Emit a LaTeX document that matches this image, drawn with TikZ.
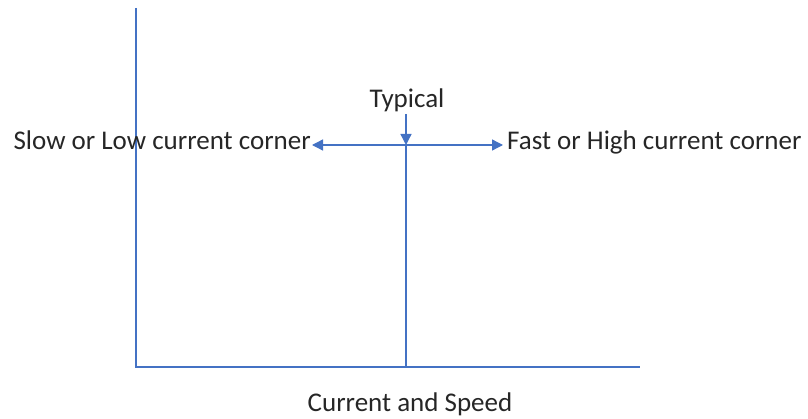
\documentclass[tikz,border=0pt]{standalone}
\usepackage{fontspec}
\setmainfont{Carlito}
\usetikzlibrary{arrows.meta}
\definecolor{axblue}{HTML}{4472C4}
\begin{document}
\begin{tikzpicture}[x=1pt,y=-1pt,
  axis/.style={draw=axblue,line width=1.3pt},
  arr/.style={draw=axblue,line width=1.3pt,-{Triangle[length=11pt,width=11pt]}},
  lbl/.style={inner sep=0pt,font=\fontsize{27}{32}\selectfont,text=black!85}]
\useasboundingbox (0,0) rectangle (808,419);
\coordinate (ytop) at (136,8);
\coordinate (origin) at (136,367);
\coordinate (xend) at (640,367);
\coordinate (mbot) at (406,367);
\coordinate (mtop) at (406,145);
\coordinate (tarrtop) at (406,114);
\coordinate (lend) at (312,145);
\coordinate (rend) at (503,145);
\draw[axis] (ytop) -- (origin) -- (xend);
\draw[axis] (mbot) -- (mtop);
\draw[arr] (mtop) -- (lend);
\draw[arr] (mtop) -- (rend);
\draw[arr] (tarrtop) -- (mtop);
\node[lbl,anchor=base] (typ) at (407,108) {Typical};
\node[lbl,anchor=base east] (slow) at (311,150) {Slow or Low current corner};
\node[lbl,anchor=base west] (fast) at (507,150) {Fast or High current corner};
\node[lbl,anchor=base] (cs) at (410,411) {Current and Speed};
\end{tikzpicture}
\end{document}
